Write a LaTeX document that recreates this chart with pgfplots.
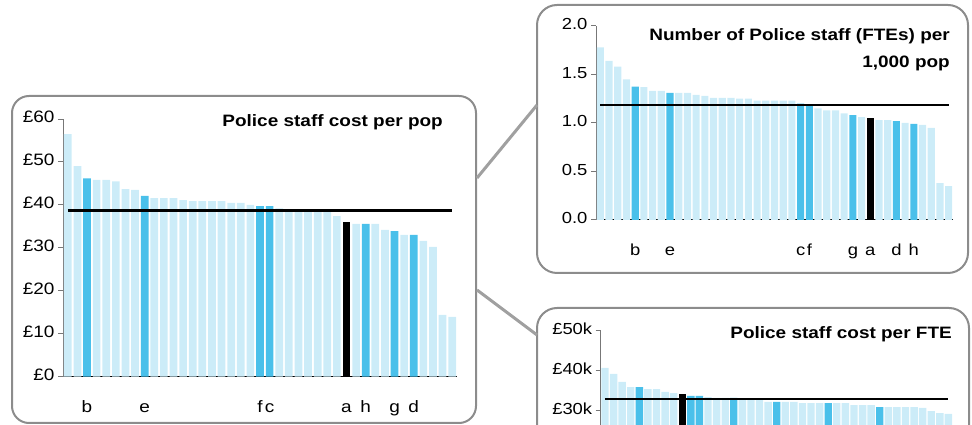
\documentclass[border=0pt]{standalone}
\usepackage{pgfplots}
\pgfplotsset{compat=1.18}
\usepackage{fontspec}
\setmainfont[FakeStretch=1.15]{Liberation Sans}
\definecolor{lightb}{HTML}{CCECF8}
\definecolor{midb}{HTML}{4AC0EA}
\definecolor{framegray}{HTML}{8C8C8C}
\definecolor{linkgray}{HTML}{A0A0A0}
\definecolor{axgray}{HTML}{777777}
\pgfplotsset{
  panel/.style={scale only axis, anchor=south west,
    axis x line=bottom, axis y line=left, axis line style={-},
    x axis line style={black, line width=1pt},
    y axis line style={axgray, line width=1pt},
    xmin=0.5, xmax=41.5, tick align=outside, major tick length=5pt,
    ytick style={axgray, line width=1pt}, xtick style={draw=none},
    typeset ticklabels with strut, clip=false,
    xticklabel style={yshift=-13.5pt}},
  lb/.style={ybar, bar shift=0pt, fill=lightb, draw=none},
  mb/.style={ybar, bar shift=0pt, fill=midb, draw=none},
  kb/.style={ybar, bar shift=0pt, fill=black, draw=none},
  avg/.style={black, line width=2.2pt, mark=none},
}
\begin{document}
\begin{tikzpicture}[x=1pt,y=1pt]
\begin{scope}
\clip (0,0) rectangle (972,425);
% frames
\draw[framegray, line width=2pt, rounded corners=17pt] (12,2) rectangle (476,329);
\draw[framegray, line width=2pt, rounded corners=20pt] (537,152) rectangle (968,420);
\draw[framegray, line width=2pt, rounded corners=20pt] (537,-60) rectangle (969,117);
\draw[linkgray, line width=3pt] (477,247) -- (537,320);
\draw[linkgray, line width=3pt] (477,135) -- (537,90);

% ---- left panel: Police staff cost per pop
\begin{axis}[panel, at={(63pt,48.3pt)}, width=394pt, height=257.7pt,
  ymin=0, ymax=60, ytick={0,10,20,30,40,50,60},
  yticklabels={£0,£10,£20,£30,£40,£50,£60},
  xtick={3,9,21,22,30,32,35,37}, xticklabels={b,e,f,c,a,h,g,d},
  ticklabel style={font=\fontsize{16.5}{19}\selectfont}]
\addplot[lb, bar width=0.8] coordinates {
 (1,56.5) (2,49.0) (4,45.8) (5,45.8) (6,45.5) (7,43.7) (8,43.5)
 (10,41.6) (11,41.6) (12,41.6) (13,41.1) (14,40.9) (15,40.9) (16,40.9) (17,40.9)
 (18,40.5) (19,40.5) (20,40.0) (23,39.2) (24,38.8) (25,38.8) (26,38.8) (27,38.8)
 (28,38.8) (29,37.4) (31,35.6) (33,35.6) (34,34.2) (36,33.0) (38,31.6) (39,30.2)
 (40,14.4) (41,13.9)};
\addplot[mb, bar width=0.8] coordinates {
 (3,46.2) (9,42.1) (21,39.7) (22,39.7) (32,35.6) (35,33.9) (37,33.0)};
\addplot[kb, bar width=0.8] coordinates {(30,36.0)};
\addplot[avg] coordinates {(1,38.7) (41,38.7)};
\end{axis}
\node[anchor=base east, inner sep=0pt, font=\bfseries\fontsize{16.5}{19}\selectfont]
  at (443,298.3) {Police staff cost per pop};

% ---- top right panel: FTEs per 1,000 pop
\begin{axis}[panel, at={(596pt,205pt)}, width=357pt, height=194pt,
  ymin=0, ymax=2, ytick={0,0.5,1,1.5,2},
  yticklabels={0.0,0.5,1.0,1.5,2.0},
  xtick={5,9,24,25,30,32,35,37}, xticklabels={b,e,c,f,g,a,d,h},
  ticklabel style={font=\fontsize{16}{19}\selectfont}]
\addplot[lb, bar width=0.82] coordinates {
 (1,1.78) (2,1.64) (3,1.58) (4,1.45) (6,1.37) (7,1.33) (8,1.33)
 (10,1.31) (11,1.31) (12,1.29) (13,1.28) (14,1.26) (15,1.26) (16,1.26)
 (17,1.25) (18,1.25) (19,1.23) (20,1.23) (21,1.23) (22,1.23) (23,1.23)
 (26,1.15) (27,1.13) (28,1.13) (29,1.10) (31,1.06) (33,1.03) (34,1.03)
 (36,1.00) (38,0.98) (39,0.95) (40,0.38) (41,0.35)};
\addplot[mb, bar width=0.82] coordinates {
 (5,1.375) (9,1.31) (24,1.20) (25,1.19) (30,1.08) (35,1.02) (37,0.99)};
\addplot[kb, bar width=0.82] coordinates {(32,1.05)};
\addplot[avg] coordinates {(1,1.183) (41,1.183)};
\end{axis}
\node[anchor=base east, inner sep=0pt, font=\bfseries\fontsize{16.5}{19}\selectfont]
  at (950,384) {Number of Police staff (FTEs) per};
\node[anchor=base east, inner sep=0pt, font=\bfseries\fontsize{16.5}{19}\selectfont]
  at (950,357.3) {1,000 pop};

% ---- bottom right panel: cost per FTE (cut by the picture's lower edge)
\begin{axis}[panel, at={(600.7pt,-105.7pt)}, width=352pt, height=200pt,
  ymin=0, ymax=50, ytick={30,40,50},
  yticklabels={£30k,£40k,£50k},
  xtick=\empty,
  ticklabel style={font=\fontsize{16}{19}\selectfont}]
\addplot[lb, bar width=0.86] coordinates {
 (1,40.7) (2,39.2) (3,37.2) (4,35.9) (6,35.4) (7,35.4) (8,34.7) (9,34.4)
 (13,33.4) (14,33.2) (15,33.2) (17,32.7) (18,32.7) (19,32.7) (20,32.2)
 (22,32.2) (23,32.2) (24,31.9) (25,31.9) (26,31.9) (28,31.9) (29,31.9)
 (30,31.4) (31,31.4) (32,31.4) (34,30.9) (35,30.9) (36,30.9) (37,30.9)
 (38,30.7) (39,29.9) (40,29.4) (41,29.2)};
\addplot[mb, bar width=0.86] coordinates {
 (5,35.9) (11,33.7) (12,33.7) (16,33.2) (21,32.2) (27,31.9) (33,30.9)};
\addplot[kb, bar width=0.86] coordinates {(10,34.2)};
\addplot[avg] coordinates {(1,32.9) (41,32.9)};
\end{axis}
\node[anchor=base east, inner sep=0pt, font=\bfseries\fontsize{16.5}{19}\selectfont]
  at (952,86) {Police staff cost per FTE};
\end{scope}
\pgfresetboundingbox
\path[use as bounding box] (0,0) rectangle (972,425);
\end{tikzpicture}
\end{document}
